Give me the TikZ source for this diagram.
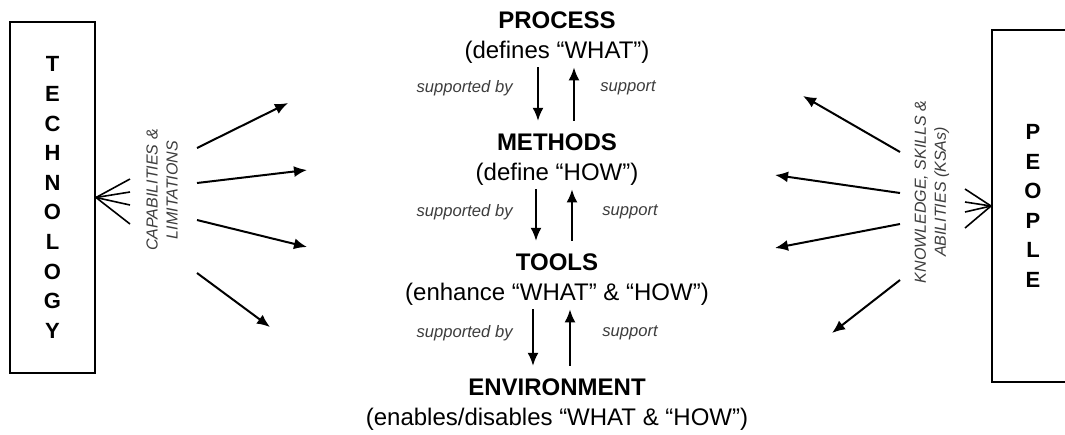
\documentclass[tikz,border=0pt]{standalone}
\usepackage{fontspec}
\setmainfont{Liberation Sans}
\usepackage{xcolor}
\usepackage{tikz}
\usetikzlibrary{arrows.meta}

\definecolor{notegray}{HTML}{3C3C3C}

\tikzset{
  headtext/.style={anchor=base, font=\bfseries\fontsize{12}{14}\selectfont, inner xsep=0pt, inner ysep=6pt},
  subtext/.style={anchor=base, font=\fontsize{12}{14}\selectfont, inner xsep=0pt, inner ysep=2pt},
  relnote/.style={font=\itshape\fontsize{8.3}{10}\selectfont, text=notegray, inner sep=0pt},
  sidelabel/.style={rotate=90, align=center, font=\itshape\fontsize{8}{10}\selectfont, text=notegray},
  bigbox/.style={draw, line width=1pt, align=center, font=\bfseries\fontsize{11}{14.8}\selectfont},
  arr/.style={-{Latex[length=6.5pt,width=5.5pt]}, line width=1pt},
  fan/.style={line width=0.8pt}
}

\begin{document}
\begin{tikzpicture}[x=0.5pt,y=-0.5pt]
  \clip (0,0) rectangle (1065,434);

  % Side boxes
  \node[bigbox, minimum width=42.5pt, minimum height=175.5pt] (tech) at (52.5,197.5) {T\\E\\C\\H\\N\\O\\L\\O\\G\\Y};
  \node[bigbox, minimum width=41pt, minimum height=176pt] (people) at (1033,206) {P\\E\\O\\P\\L\\E};

  % Centre column
  \node[headtext] (proc) at (557,28) {PROCESS};
  \node[subtext] (procsub) at (557,58) {(defines “WHAT”)};
  \node[headtext] (meth) at (557,150) {METHODS};
  \node[subtext] (methsub) at (557,180) {(define “HOW”)};
  \node[headtext] (tools) at (557,270) {TOOLS};
  \node[subtext] (toolsub) at (557,300) {(enhance “WHAT” \& “HOW”)};
  \node[headtext] (env) at (557,395) {ENVIRONMENT};
  \node[subtext] (envsub) at (557,425) {(enables/disables “WHAT \& “HOW”)};

  % supported by / support
  \draw[arr] ([xshift=-9.5pt]procsub.south) -- ([xshift=-9.5pt]meth.north);
  \draw[arr] ([xshift=8.5pt]meth.north) -- ([xshift=8.5pt]procsub.south);
  \draw[arr] ([xshift=-10.5pt]methsub.south) -- ([xshift=-10.5pt]tools.north);
  \draw[arr] ([xshift=7.5pt]tools.north) -- ([xshift=7.5pt]methsub.south);
  \draw[arr] ([xshift=-12pt]toolsub.south) -- ([xshift=-12pt]env.north);
  \draw[arr] ([xshift=6.5pt]env.north) -- ([xshift=6.5pt]toolsub.south);

  \node[relnote, anchor=east] (sb1) at (513,88) {supported by};
  \node[relnote, anchor=west] (sp1) at (600,88) {support};
  \node[relnote, anchor=east] (sb2) at (513,212) {supported by};
  \node[relnote, anchor=west] (sp2) at (602,212) {support};
  \node[relnote, anchor=east] (sb3) at (513,333) {supported by};
  \node[relnote, anchor=west] (sp3) at (602,333) {support};

  % Technology side
  \node[sidelabel] (caplim) at (162,190) {CAPABILITIES \&\\LIMITATIONS};
  \foreach \y [count=\i] in {179,192,205,224} {
    \coordinate (tf\i) at (130,\y);
    \draw[fan] (tech.east) -- (tf\i);
  }
  \foreach \sx/\sy/\ex/\ey [count=\i] in {197/148/288/103, 197/183/307/170, 197/220/307/247, 197/273/270/327} {
    \coordinate (ls\i) at (\sx,\sy);
    \coordinate (le\i) at (\ex,\ey);
    \draw[arr] (ls\i) -- (le\i);
  }

  % People side
  \node[sidelabel] (ksa) at (932,192) {KNOWLEDGE, SKILLS \&\\ABILITIES (KSAs)};
  \foreach \y [count=\i] in {189,202,212,228} {
    \coordinate (pf\i) at (965,\y);
    \draw[fan] (people.west) -- (pf\i);
  }
  \foreach \sx/\sy/\ex/\ey [count=\i] in {900/152/803/96, 900/193/775/175, 900/224/775/248, 900/280/832/333} {
    \coordinate (rs\i) at (\sx,\sy);
    \coordinate (re\i) at (\ex,\ey);
    \draw[arr] (rs\i) -- (re\i);
  }
\end{tikzpicture}
\end{document}
